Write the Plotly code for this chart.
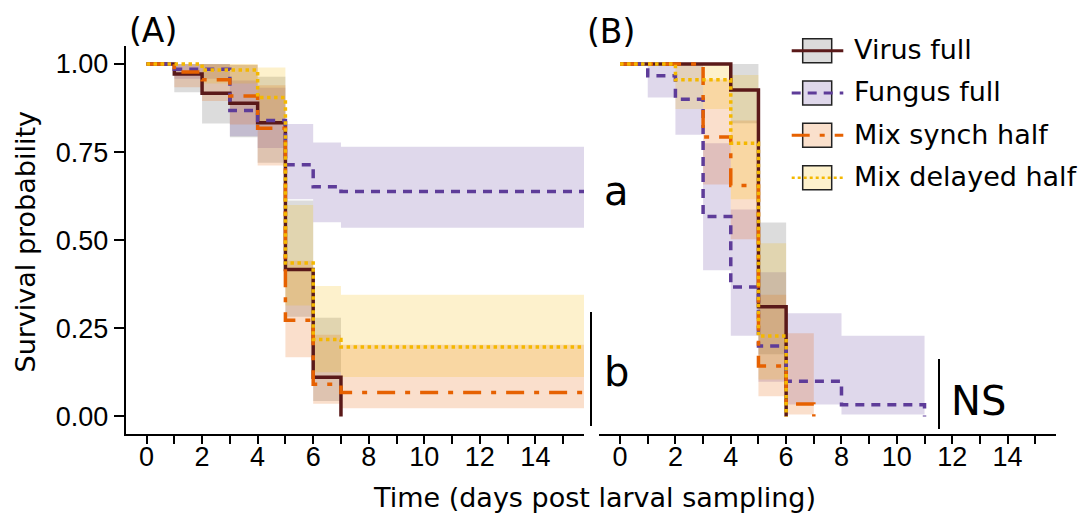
import plotly.graph_objects as go

W, H = 1083, 514

# ---------------- data ----------------
series_names = ["Virus full", "Fungus full", "Mix synch half", "Mix delayed half"]

# Panel A : event times, survival, CI lower / upper (per interval)
virusA_t = [0, 1, 2, 3, 4, 5, 6, 7]
virusA_s = [1, 0.972, 0.917, 0.889, 0.833, 0.417, 0.111, 0.0]
virusA_lo = [1, 0.920, 0.831, 0.792, 0.720, 0.283, 0.044]
virusA_hi = [1, 1, 1, 0.997, 0.964, 0.613, 0.280]

fungusA_t = [0, 1, 3, 4, 5, 6, 7]
fungusA_s = [1, 0.985, 0.868, 0.840, 0.714, 0.652, 0.638]
fungusA_lo = [1, 0.958, 0.795, 0.762, 0.616, 0.551, 0.535]
fungusA_hi = [1, 1, 0.953, 0.933, 0.830, 0.777, 0.765]

synchA_t = [0, 1, 2, 3, 4, 5, 6, 7]
synchA_s = [1, 0.977, 0.955, 0.909, 0.818, 0.273, 0.091, 0.068]
synchA_lo = [1, 0.934, 0.895, 0.828, 0.712, 0.168, 0.036, 0.023]
synchA_hi = [1, 1, 1, 0.998, 0.940, 0.442, 0.232, 0.203]

delayedA_t = [0, 2, 4, 5, 6, 7]
delayedA_s = [1, 0.983, 0.905, 0.435, 0.218, 0.197]
delayedA_lo = [1, 0.945, 0.835, 0.315, 0.125, 0.112]
delayedA_hi = [1, 1, 0.990, 0.600, 0.370, 0.345]

# Panel B
virusB_t = [0, 4, 5, 6]
virusB_s = [1, 0.926, 0.311, 0.0]
virusB_lo = [1, 0.832, 0.176]
virusB_hi = [1, 1, 0.550]

fungusB_t = [0, 1, 2, 3, 4, 5, 6, 8, 11]
fungusB_s = [1, 0.967, 0.900, 0.567, 0.367, 0.200, 0.100, 0.033, 0.0]
fungusB_lo = [1, 0.905, 0.799, 0.415, 0.229, 0.098, 0.034, 0.005]
fungusB_hi = [1, 1, 1, 0.775, 0.587, 0.409, 0.293, 0.229]

synchB_t = [0, 3, 4, 5, 6, 7]
synchB_s = [1, 0.793, 0.655, 0.143, 0.035, 0.0]
synchB_lo = [1, 0.658, 0.503, 0.057, 0.005]
synchB_hi = [1, 0.956, 0.840, 0.345, 0.236]

delayedB_t = [0, 2, 4, 5, 6]
delayedB_s = [1, 0.955, 0.775, 0.228, 0.0]
delayedB_lo = [1, 0.872, 0.616, 0.105]
delayedB_hi = [1, 1, 0.969, 0.491]

follow_up_end = 16

x_tickvals = list(range(0, 16))
x_ticktext = [str(v) if v % 2 == 0 else "" for v in x_tickvals]
y_tickvals = [0, 0.25, 0.5, 0.75, 1.0]
y_ticktext = ["0.00", "0.25", "0.50", "0.75", "1.00"]

# ---------------- styles ----------------
line_col = ["#5a1919", "#5e3c99", "#e66101", "#f4b800"]
fill_col = ["rgba(128,128,128,0.28)", "rgba(94,60,153,0.2)",
            "rgba(230,97,1,0.2)", "rgba(244,184,0,0.2)"]
key_fill = ["#dbdbdb", "#dfd8eb", "#fae0cc", "#fdf1cc"]
dashes = ["solid", "9px,7px", "18px,10px,5px,10px", "dot"]
LW = 3.5

panelA = [(virusA_t, virusA_s, virusA_lo, virusA_hi),
          (fungusA_t, fungusA_s, fungusA_lo, fungusA_hi),
          (synchA_t, synchA_s, synchA_lo, synchA_hi),
          (delayedA_t, delayedA_s, delayedA_lo, delayedA_hi)]
panelB = [(virusB_t, virusB_s, virusB_lo, virusB_hi),
          (fungusB_t, fungusB_s, fungusB_lo, fungusB_hi),
          (synchB_t, synchB_s, synchB_lo, synchB_hi),
          (delayedB_t, delayedB_s, delayedB_lo, delayedB_hi)]


def step_line(t, s, end):
    x, y = list(t), list(s)
    if y[-1] > 0:
        x.append(end)
        y.append(y[-1])
    return x, y


def ribbon(t, lo, hi, end):
    bounds = list(t) + [end]
    n = len(lo)
    starts = bounds[:n]
    stops = bounds[1:n + 1]
    xs, ys = [], []
    for i in range(n):
        xs += [starts[i], stops[i]]
        ys += [hi[i], hi[i]]
    for i in reversed(range(n)):
        xs += [stops[i], starts[i]]
        ys += [lo[i], lo[i]]
    return xs, ys


fig = go.Figure()
for panel, xa, ya in [(panelA, "x", "y"), (panelB, "x2", "y2")]:
    for k, (t, s, lo, hi) in enumerate(panel):
        rx, ry = ribbon(t, lo, hi, follow_up_end)
        fig.add_trace(go.Scatter(x=rx, y=ry, fill="toself", fillcolor=fill_col[k],
                                 line=dict(width=0), mode="lines", hoverinfo="skip",
                                 showlegend=False, xaxis=xa, yaxis=ya))
    for k, (t, s, lo, hi) in enumerate(panel):
        lx, ly = step_line(t, s, follow_up_end)
        fig.add_trace(go.Scatter(x=lx, y=ly, mode="lines", line_shape="hv",
                                 line=dict(color=line_col[k], width=LW, dash=dashes[k]),
                                 name=series_names[k], showlegend=False,
                                 xaxis=xa, yaxis=ya))


def px(x):
    return x / W


def py(y):
    return 1 - y / H


tick_font = dict(family="Liberation Sans, Arial, sans-serif", size=27, color="black")
text_font = "DejaVu Sans, Verdana, sans-serif"

axis_common = dict(showgrid=False, zeroline=False, showline=True, linecolor="black",
                   linewidth=2, ticks="outside", tickcolor="black", tickwidth=2,
                   tickfont=tick_font)

y_dom = [py(434), py(46.4)]
fig.update_layout(
    width=W, height=H, margin=dict(l=0, r=0, t=0, b=0),
    paper_bgcolor="white", plot_bgcolor="white",
    xaxis=dict(domain=[px(125.7), px(584)], range=[-0.75, 15.75], anchor="y",
               tickvals=x_tickvals, ticktext=x_ticktext, ticklen=8,
               ticklabelstandoff=-10, **axis_common),
    yaxis=dict(domain=y_dom, range=[-0.05, 1.05], anchor="x",
               tickvals=y_tickvals, ticktext=y_ticktext, ticklen=10, **axis_common),
    xaxis2=dict(domain=[px(599.3), px(1056)], range=[-0.75, 15.75], anchor="y2",
                tickvals=x_tickvals, ticktext=x_ticktext, ticklen=8,
                ticklabelstandoff=-10, **axis_common),
    yaxis2=dict(domain=y_dom, range=[-0.05, 1.05], anchor="x2", showline=False,
                showticklabels=False, ticks="", showgrid=False, zeroline=False),
    showlegend=False,
)

annotations = [
    dict(text="(A)", x=px(152.5), y=py(30), font=dict(family=text_font, size=33)),
    dict(text="(B)", x=px(611), y=py(31), font=dict(family=text_font, size=33)),
    dict(text="a", x=px(616.7), y=py(190.5), font=dict(family=text_font, size=40)),
    dict(text="b", x=px(616.7), y=py(371.5), font=dict(family=text_font, size=40)),
    dict(text="NS", x=px(978.5), y=py(400.5), font=dict(family=text_font, size=40)),
    dict(text="Survival probability", x=px(25), y=py(241.5), textangle=-90,
         font=dict(family=text_font, size=27)),
    dict(text="Time (days post larval sampling)", x=px(594.5), y=py(497),
         font=dict(family=text_font, size=27)),
]
shapes = [
    dict(type="line", xref="paper", yref="paper", x0=px(591), x1=px(591),
         y0=py(312), y1=py(426), line=dict(color="black", width=2)),
    dict(type="line", xref="paper", yref="paper", x0=px(939), x1=px(939),
         y0=py(359), y1=py(429), line=dict(color="black", width=2)),
]

# legend keys
row_c = [50.7, 92.9, 135.3, 177.7]
for k, name in enumerate(series_names):
    c = row_c[k]
    shapes.append(dict(type="rect", xref="paper", yref="paper",
                       x0=px(802.7), x1=px(831.7), y0=py(c + 12), y1=py(c - 12),
                       fillcolor=key_fill[k], line=dict(color="#222222", width=1.5)))
    shapes.append(dict(type="line", xref="paper", yref="paper",
                       x0=px(791.7), x1=px(843.3), y0=py(c), y1=py(c),
                       line=dict(color=line_col[k], width=3 if k < 3 else 2.5,
                                 dash=dashes[k])))
    annotations.append(dict(text=name, x=px(851.7), y=py(c - 1), xanchor="left",
                            font=dict(family=text_font, size=27)))

for a in annotations:
    a.setdefault("xref", "paper")
    a.setdefault("yref", "paper")
    a.setdefault("showarrow", False)
    a.setdefault("xanchor", "center")
    a.setdefault("yanchor", "middle")
    a["font"].setdefault("color", "black")

fig.update_layout(annotations=annotations, shapes=shapes)
fig.write_html("out.html")
